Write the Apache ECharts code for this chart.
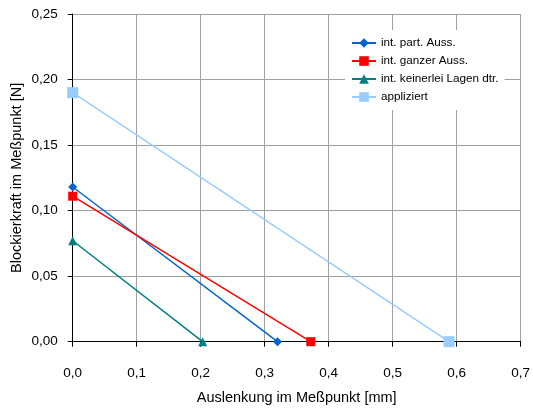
<!DOCTYPE html>
<html><head><meta charset="utf-8">
<script src="https://cdn.jsdelivr.net/npm/echarts@6/dist/echarts.min.js"></script>
<style>html,body{margin:0;padding:0;background:#fff}#c{width:533px;height:410px}</style>
</head><body><div id="c"></div>
<script>
const seriesNames = ['int. part. Auss.', 'int. ganzer Auss.', 'int. keinerlei Lagen dtr.', 'appliziert'];
const partX = [0, 0.32];   const partY = [0.118, 0];
const ganzX = [0, 0.372];  const ganzY = [0.111, 0];
const keinX = [0, 0.203];  const keinY = [0.077, 0];
const applX = [0, 0.588];  const applY = [0.190, 0];
const xTicks = [0, 0.1, 0.2, 0.3, 0.4, 0.5, 0.6, 0.7];
const yTicks = [0, 0.05, 0.10, 0.15, 0.20, 0.25];

const pair = (xs, ys) => xs.map((x, i) => [x, ys[i]]);
const font = 'Liberation Sans, Arial, sans-serif';
const chart = echarts.init(document.getElementById('c'));
const mk = (name, xs, ys, color, symbol, size) => ({
  name, type: 'line', data: pair(xs, ys), clip: false,
  symbol, symbolSize: size, showAllSymbol: true,
  lineStyle: { color, width: 1.5 }, itemStyle: { color },
  emphasis: { disabled: true }
});
chart.setOption({
  animation: false,
  textStyle: { fontFamily: font },
  grid: { left: 72.7, right: 12.3, top: 14, bottom: 68.3, containLabel: false, outerBoundsMode: 'none' },
  legend: {
    orient: 'vertical', left: 345, top: 30,
    backgroundColor: '#fff', padding: [7, 6, 7, 6],
    itemWidth: 24, itemHeight: 12, itemGap: 6, itemTextGap: 2,
    textStyle: { fontFamily: font, fontSize: 11.7, color: '#000' },
    data: seriesNames
  },
  xAxis: {
    type: 'value', min: 0, max: 0.7, interval: 0.1,
    name: 'Auslenkung im Meßpunkt [mm]', nameLocation: 'middle', nameGap: 49, nameMoveOverlap: false,
    nameTextStyle: { fontFamily: font, fontSize: 14.5, color: '#000' },
    axisLine: { show: true, onZero: false, lineStyle: { color: '#000', width: 1 } },
    axisTick: { show: true, length: 5, lineStyle: { color: '#000' } },
    axisLabel: { fontFamily: font, fontSize: 13.5, color: '#000', margin: 25,
      formatter: v => v.toFixed(1).replace('.', ',') },
    splitLine: { show: true, lineStyle: { color: '#a0a0a0', width: 1 } }
  },
  yAxis: {
    type: 'value', min: 0, max: 0.25, interval: 0.05,
    name: 'Blockierkraft im Meßpunkt [N]', nameLocation: 'middle', nameGap: 48, nameMoveOverlap: false,
    nameTextStyle: { fontFamily: font, fontSize: 14.5, color: '#000' },
    axisLine: { show: true, onZero: false, lineStyle: { color: '#000', width: 1 } },
    axisTick: { show: true, length: 5, lineStyle: { color: '#000' } },
    axisLabel: { fontFamily: font, fontSize: 13.5, color: '#000', margin: 15,
      formatter: v => v.toFixed(2).replace('.', ',') },
    splitLine: { show: true, lineStyle: { color: '#a0a0a0', width: 1 } }
  },
  series: [
    mk(seriesNames[0], partX, partY, '#0066CC', 'diamond', 9),
    mk(seriesNames[1], ganzX, ganzY, '#FF0000', 'rect', 9),
    mk(seriesNames[2], keinX, keinY, '#008080', 'triangle', 9),
    mk(seriesNames[3], applX, applY, '#99CCFF', 'rect', 11)
  ]
});
</script></body></html>
